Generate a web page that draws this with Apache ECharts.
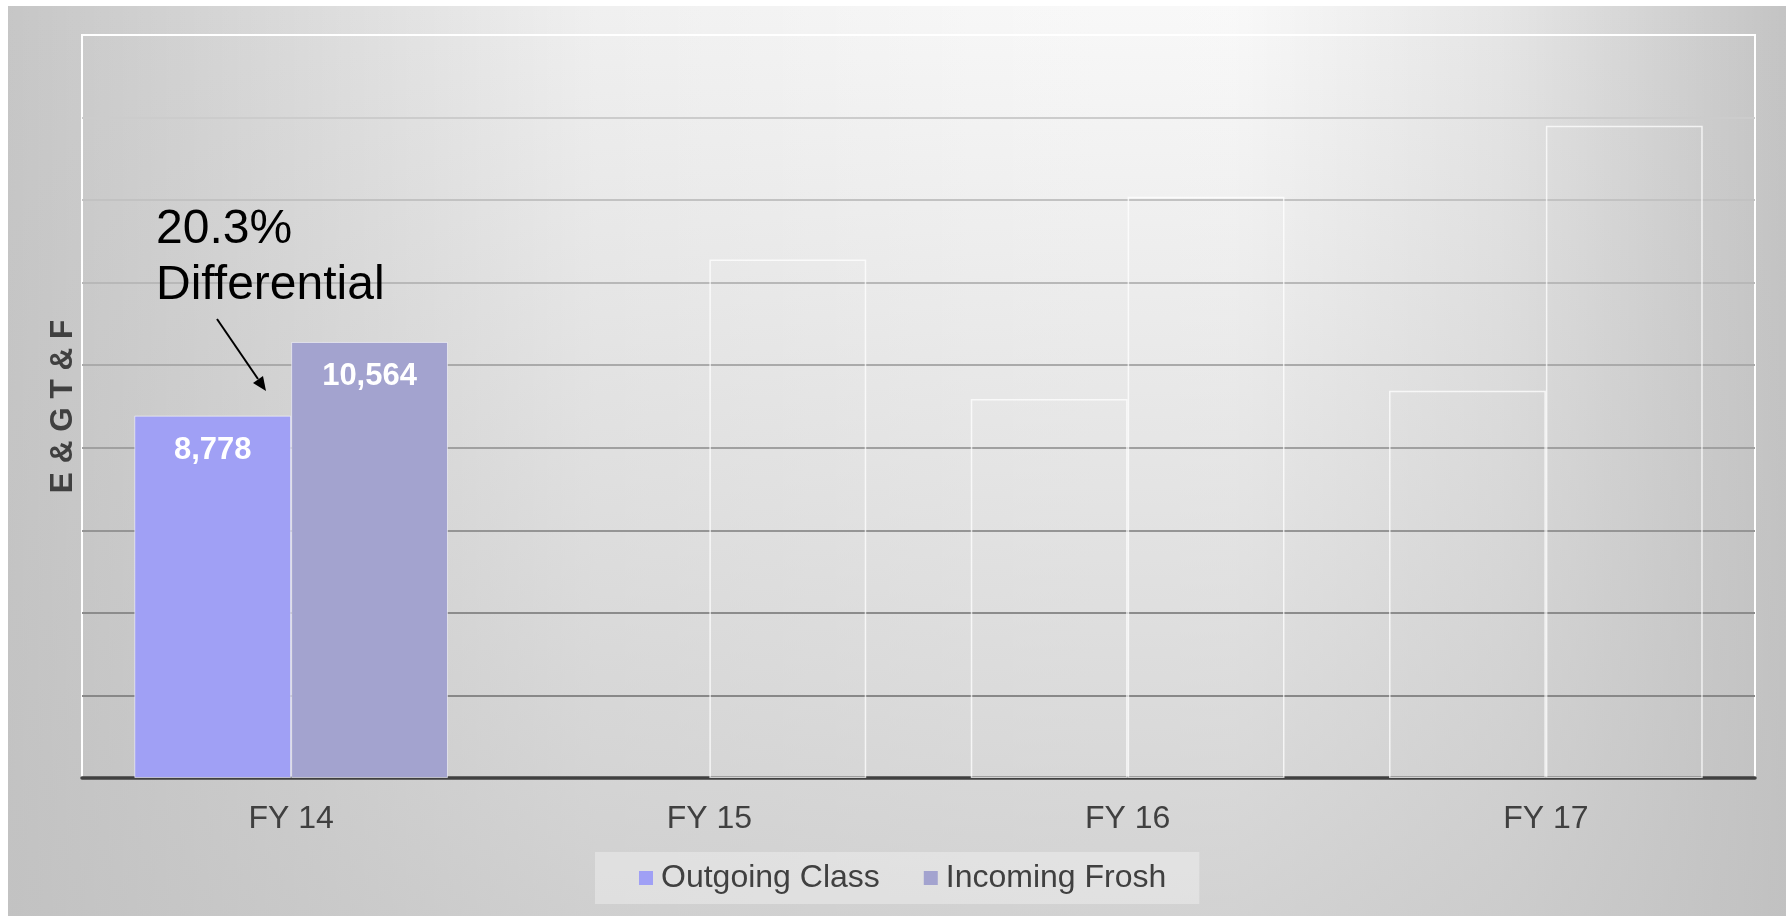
<!DOCTYPE html>
<html>
<head>
<meta charset="utf-8">
<script src="https://cdn.jsdelivr.net/npm/echarts@6/dist/echarts.min.js"></script>
<style>
html,body{margin:0;padding:0;background:#fff;}
#c{width:1789px;height:916px;}
</style>
</head>
<body>
<div id="c"></div>
<script>
const categories = ['FY 14', 'FY 15', 'FY 16', 'FY 17'];
const outgoingClass = [8778, null, 9180, 9380];
const incomingFrosh = [10564, 12560, 14080, 15800];
const seriesNames = ['Outgoing Class', 'Incoming Frosh'];
const yAxisTitle = 'E & G T & F';
const annotationText = '20.3%\nDifferential';
const labelledIndex = 0;

const FONT = "'Liberation Sans', Arial, sans-serif";
const AX = 8, AY = 6, AW = 1778, AH = 910;

function buildData(values, fill) {
  return values.map((v, i) => {
    if (v === null) return '-';
    if (i === labelledIndex) {
      return {
        value: v,
        itemStyle: { color: fill, borderColor: 'rgba(255,255,255,0.55)', borderWidth: 1 },
        label: {
          show: true, position: 'insideTop', distance: 19,
          color: '#ffffff', fontSize: 31, fontWeight: 'bold', fontFamily: FONT,
          formatter: p => p.value.toLocaleString('en-US')
        }
      };
    }
    return {
      value: v,
      itemStyle: { color: 'rgba(255,255,255,0)', borderColor: 'rgba(255,255,255,0.75)', borderWidth: 1.5 }
    };
  });
}

const chart = echarts.init(document.getElementById('c'), null, { renderer: 'canvas' });

const option = {
  backgroundColor: '#ffffff',
  animation: false,
  textStyle: { fontFamily: FONT },
  graphic: [
    { type: 'rect', z: -100, silent: true,
      shape: { x: AX, y: AY, width: AW, height: AH },
      style: { fill: '#c0c0c0' } },
    { type: 'rect', z: -99, silent: true,
      shape: { x: AX, y: AY, width: AW, height: AH },
      style: { fill: { type: 'linear', x: 0, y: 0, x2: 1, y2: 0, colorStops: [
        { offset: 0, color: 'rgba(255,255,255,0.10)' },
        { offset: 0.17, color: 'rgba(255,255,255,0.44)' },
        { offset: 0.33, color: 'rgba(255,255,255,0.76)' },
        { offset: 0.55, color: 'rgba(255,255,255,0.88)' },
        { offset: 0.69, color: 'rgba(255,255,255,0.90)' },
        { offset: 0.84, color: 'rgba(255,255,255,0.60)' },
        { offset: 1, color: 'rgba(255,255,255,0.06)' }
      ] } } },
    { type: 'rect', z: -98, silent: true,
      shape: { x: AX, y: AY, width: AW, height: AH },
      style: { fill: { type: 'linear', x: 0, y: 0, x2: 0, y2: 1, colorStops: [
        { offset: 0, color: 'rgba(192,192,192,0)' },
        { offset: 1, color: 'rgba(192,192,192,0.68)' }
      ] } } },
    { type: 'text', z: 100, silent: true,
      style: { x: 156, y: 202, text: annotationText, font: '48px ' + FONT,
        lineHeight: 56, fill: '#000000', verticalAlign: 'top', align: 'left' } },
    { type: 'line', z: 100, silent: true,
      shape: { x1: 217, y1: 319, x2: 258, y2: 379 },
      style: { stroke: '#000000', lineWidth: 2 } },
    { type: 'polygon', z: 100, silent: true,
      shape: { points: [[266, 391], [253, 383], [263, 376]] },
      style: { fill: '#000000' } }
  ],
  grid: {
    left: 82, right: 34, top: 35, bottom: 138,
    show: true, borderColor: '#ffffff', borderWidth: 2,
    backgroundColor: 'rgba(0,0,0,0)'
  },
  legend: {
    data: seriesNames,
    left: 595, top: 852,
    padding: [10, 33, 10, 44],
    itemGap: 44,
    itemWidth: 14, itemHeight: 14,
    icon: 'rect',
    backgroundColor: 'rgba(255,255,255,0.32)',
    textStyle: { fontSize: 32, color: '#404040', fontFamily: FONT, padding: [0, 0, 0, 3] }
  },
  xAxis: {
    type: 'category',
    data: categories,
    axisLine: { show: true, lineStyle: { color: '#404040', width: 3.5 } },
    axisTick: { show: false },
    axisLabel: { fontSize: 32, color: '#404040', margin: 25, fontFamily: FONT }
  },
  yAxis: {
    type: 'value',
    min: 0, max: 18000, interval: 2000,
    name: yAxisTitle,
    nameLocation: 'middle',
    nameGap: 3,
    nameTextStyle: { fontSize: 31.5, fontWeight: 'bold', color: '#404040', fontFamily: FONT },
    axisLine: { show: false },
    axisTick: { show: false },
    axisLabel: { show: false },
    splitLine: { show: true, lineStyle: { width: 2, color: [
      '#888888', '#888888', '#8c8c8c', '#959595', '#a0a0a0',
      '#aaaaaa', '#b8b8b8', '#c2c2c2', '#cccccc', '#ffffff'
    ] } }
  },
  series: [
    { name: seriesNames[0], type: 'bar', data: buildData(outgoingClass, '#a0a0f5'),
      itemStyle: { color: '#a0a0f5' },
      barGap: '0%', barCategoryGap: '25%' },
    { name: seriesNames[1], type: 'bar', data: buildData(incomingFrosh, '#a3a3cf'),
      itemStyle: { color: '#a3a3cf' },
      barGap: '0%', barCategoryGap: '25%' }
  ]
};
chart.setOption(option);
</script>
</body>
</html>
